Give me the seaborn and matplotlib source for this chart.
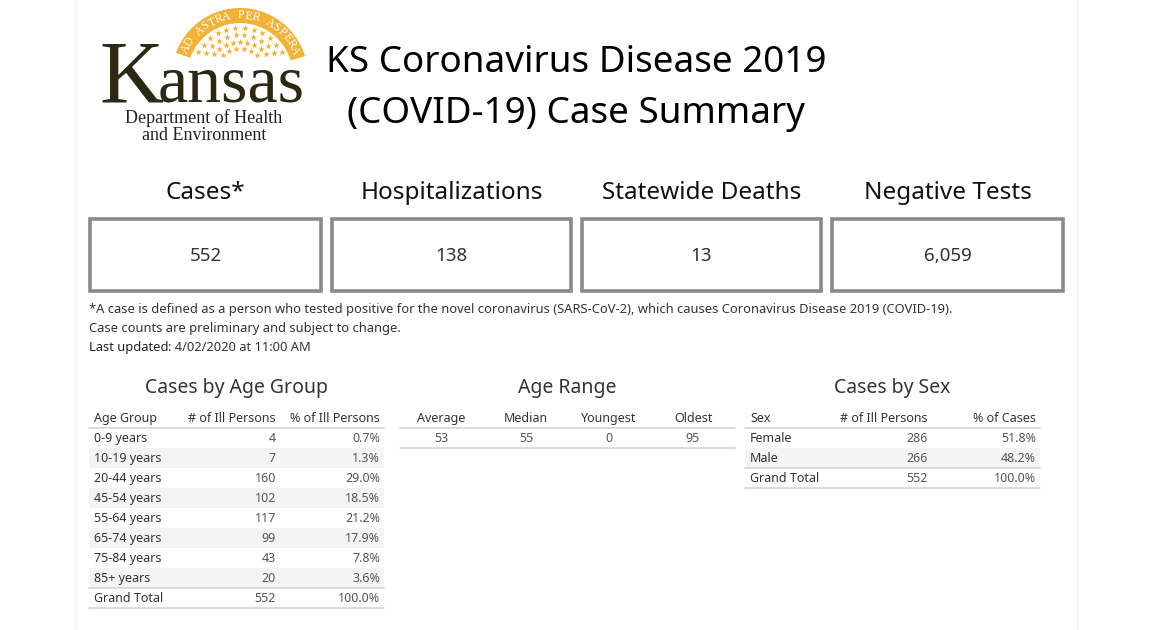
import numpy as np
import pandas as pd
import matplotlib
matplotlib.use("Agg")
import matplotlib.pyplot as plt
from matplotlib.patches import Rectangle, Wedge
from matplotlib.colors import ListedColormap
import seaborn as sns

# ---- data ----
title_lines = ["KS Coronavirus Disease 2019", "(COVID-19) Case Summary"]

kpi_labels = ["Cases*", "Hospitalizations", "Statewide Deaths", "Negative Tests"]
kpi_values = [552, 138, 13, 6059]

footnote = ("*A case is defined as a person who tested positive for the novel coronavirus "
            "(SARS-CoV-2), which causes Coronavirus Disease 2019 (COVID-19).")
footnote2 = "Case counts are preliminary and subject to change."
updated_label = "Last updated"
updated_value = ": 4/02/2020 at 11:00 AM"

age_groups = ["0-9 years", "10-19 years", "20-44 years", "45-54 years", "55-64 years",
              "65-74 years", "75-84 years", "85+ years"]
age_counts = [4, 7, 160, 102, 117, 99, 43, 20]
age_pcts = [0.7, 1.3, 29.0, 18.5, 21.2, 17.9, 7.8, 3.6]
age_total = 552

range_labels = ["Average", "Median", "Youngest", "Oldest"]
range_values = [53, 55, 0, 95]

sex_labels = ["Female", "Male"]
sex_counts = [286, 266]
sex_pcts = [51.8, 48.2]
sex_total = 552

W, H = 1156, 630
FONT = ["Noto Sans", "DejaVu Sans"]
VA = "center_baseline"

sns.set_theme(style="white")
plt.rcParams["font.family"] = FONT

fig = plt.figure(figsize=(W / 100, H / 100), dpi=100)
fig.patch.set_facecolor("white")
ax = fig.add_axes([0, 0, 1, 1])
ax.set_xlim(0, W)
ax.set_ylim(H, 0)
ax.axis("off")
ax.set_zorder(2)
ax.patch.set_alpha(0)

# faint page edges
for px in (75, 1077):
    ax.plot([px, px], [0, H], color="#f2f2f2", lw=1)

# ---- logo ----
gold = "#F2B236"
cx, cy, r_out = 240, 76, 68
ax.add_patch(Wedge((cx, cy), r_out, 200, 343, width=15, color=gold, lw=0))
motto = "AD ASTRA PER ASPERA"
angs = np.linspace(153, 25, len(motto))
for ch, a in zip(motto, angs):
    t = np.radians(a)
    ax.text(cx + 60.5 * np.cos(t), cy - 60.5 * np.sin(t), ch, rotation=a - 90,
            ha="center", va="center", fontsize=8.4, color="white",
            family="Liberation Serif", rotation_mode="anchor")
star_rows = [(48, 12, 30, 150), (41, 10, 34, 146), (34, 9, 40, 140), (27, 6, 50, 130)]
for rad, n, a0, a1 in star_rows:
    t = np.radians(np.linspace(a0, a1, n))
    ax.scatter(cx + rad * np.cos(t), cy - rad * np.sin(t), marker="*", s=26,
               color=gold, lw=0)

brown = "#2d2814"
ax.text(100, 101, "K", fontsize=64, family="Liberation Serif", color=brown,
        ha="left", va="baseline")
ax.text(158, 101, "ansas", fontsize=49, family="Liberation Serif", color=brown,
        ha="left", va="baseline")
ax.text(204, 116, "Department of Health", fontsize=13, family="Liberation Serif",
        color="#222222", ha="center", va=VA)
ax.text(204, 133, "and Environment", fontsize=13, family="Liberation Serif",
        color="#222222", ha="center", va=VA)

# ---- title ----
for i, line in enumerate(title_lines):
    ax.text(576, 59 + 51 * i, line, fontsize=26.5, color="#000000",
            ha="center", va=VA)

# ---- KPI boxes ----
box_x0 = [90, 332, 582, 832]
box_x1 = [321, 571, 821, 1063]
for lab, val, x0, x1 in zip(kpi_labels, kpi_values, box_x0, box_x1):
    xc = (x0 + x1) / 2
    ax.text(xc, 190, lab, fontsize=17.5, color="#111111", ha="center", va=VA)
    ax.add_patch(Rectangle((x0, 219), x1 - x0, 72, fill=False,
                           edgecolor="#8a8a8a", lw=2.6))
    ax.text(xc, 254, f"{val:,}", fontsize=13.5, color="#333333",
            ha="center", va=VA)

# ---- footnote ----
fn = 9.3
ax.text(89, 308, footnote, fontsize=fn, color="#333333", ha="left", va=VA)
ax.text(89, 327, footnote2, fontsize=fn, color="#333333", ha="left", va=VA)
t_upd = ax.text(89, 346, updated_label, fontsize=fn, color="#222222",
                fontweight="bold", ha="left", va=VA)
fig.canvas.draw()
bb = t_upd.get_window_extent()
ax.text(89 + bb.width, 346, updated_value, fontsize=fn, color="#333333",
        ha="left", va=VA)

# ---- tables ----
band_cmap = ListedColormap(["white", "#f4f4f4"])
line_c = "#d6d6d6"
head_c = "#333333"
cell_c = "#555555"
fs = 9
row_h = 20
top = 428
dy = -1  # text nudge inside rows


def band_axes(x0, x1, nrows):
    y1 = top + nrows * row_h
    axb = fig.add_axes([x0 / W, 1 - y1 / H, (x1 - x0) / W, nrows * row_h / H])
    band = pd.DataFrame({"band": [i % 2 for i in range(nrows)]})
    band.iloc[-1, 0] = 0
    sns.heatmap(band, ax=axb, cmap=band_cmap, vmin=0, vmax=1, cbar=False,
                xticklabels=False, yticklabels=False)
    axb.set_zorder(1)
    return axb


tt = 14
ty = 385
hy = 418 + dy
# Cases by Age Group
t1x0, t1x1 = 89, 384
ax.text((t1x0 + t1x1) / 2, ty, "Cases by Age Group", fontsize=tt,
        color="#333333", ha="center", va=VA)
band_axes(t1x0, t1x1, len(age_groups) + 1)
ax.text(94, hy, "Age Group", fontsize=fs, color=head_c, ha="left", va=VA)
ax.text(276, hy, "# of Ill Persons", fontsize=fs, color=head_c, ha="right", va=VA)
ax.text(380, hy, "% of Ill Persons", fontsize=fs, color=head_c, ha="right", va=VA)
rows1 = list(zip(age_groups, age_counts, [f"{p:.1f}%" for p in age_pcts]))
rows1.append(("Grand Total", age_total, "100.0%"))
for i, (g, c, p) in enumerate(rows1):
    yc = top + row_h * (i + 0.5) + dy
    ax.text(94, yc, g, fontsize=fs, color=head_c, ha="left", va=VA)
    ax.text(276, yc, str(c), fontsize=fs, color=cell_c, ha="right", va=VA)
    ax.text(380, yc, p, fontsize=fs, color=cell_c, ha="right", va=VA)
for yl in (top, top + row_h * len(age_groups), top + row_h * len(rows1)):
    ax.plot([t1x0, t1x1], [yl, yl], color=line_c, lw=1.2)

# Age Range
t2x0, t2x1 = 400, 735
ax.text((t2x0 + t2x1) / 2, ty, "Age Range", fontsize=tt, color="#333333",
        ha="center", va=VA)
range_x = [441, 526, 609, 693]
for lab, val, xc in zip(range_labels, range_values, range_x):
    ax.text(xc, hy, lab, fontsize=fs, color=head_c, ha="center", va=VA)
    ax.text(xc, top + row_h * 0.5 + dy, str(val), fontsize=fs, color=cell_c,
            ha="center", va=VA)
for yl in (top, top + row_h):
    ax.plot([t2x0, t2x1], [yl, yl], color=line_c, lw=1.2)

# Cases by Sex
t3x0, t3x1 = 745, 1040
ax.text((t3x0 + t3x1) / 2, ty, "Cases by Sex", fontsize=tt, color="#333333",
        ha="center", va=VA)
band_axes(t3x0, t3x1, len(sex_labels) + 1)
ax.text(750, hy, "Sex", fontsize=fs, color=head_c, ha="left", va=VA)
ax.text(928, hy, "# of Ill Persons", fontsize=fs, color=head_c, ha="right", va=VA)
ax.text(1036, hy, "% of Cases", fontsize=fs, color=head_c, ha="right", va=VA)
rows3 = list(zip(sex_labels, sex_counts, [f"{p:.1f}%" for p in sex_pcts]))
rows3.append(("Grand Total", sex_total, "100.0%"))
for i, (g, c, p) in enumerate(rows3):
    yc = top + row_h * (i + 0.5) + dy
    ax.text(750, yc, g, fontsize=fs, color=head_c, ha="left", va=VA)
    ax.text(928, yc, str(c), fontsize=fs, color=cell_c, ha="right", va=VA)
    ax.text(1036, yc, p, fontsize=fs, color=cell_c, ha="right", va=VA)
for yl in (top, top + row_h * len(sex_labels), top + row_h * len(rows3)):
    ax.plot([t3x0, t3x1], [yl, yl], color=line_c, lw=1.2)

fig.savefig("out.png", dpi=100, facecolor="white")
